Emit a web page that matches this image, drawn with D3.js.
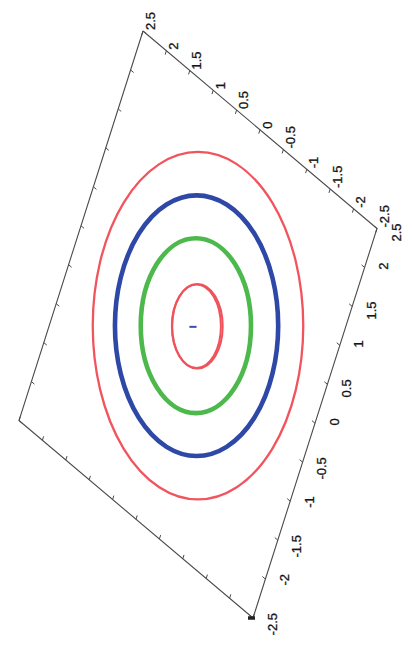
<!DOCTYPE html>
<html>
<head>
<meta charset="utf-8">
<script src="https://cdn.jsdelivr.net/npm/d3@7"></script>
<style>
  html, body { margin: 0; padding: 0; background: #fff; }
  svg { display: block; }
</style>
</head>
<body>
<svg id="chart" width="413" height="654"></svg>
<script>
// Axis tick values shared by both labelled edges of the base plane
const tickValues = [2.5, 2, 1.5, 1, 0.5, 0, -0.5, -1, -1.5, -2, -2.5];
const tickLabels = ["2.5", "2", "1.5", "1", "0.5", "0", "-0.5", "-1", "-1.5", "-2", "-2.5"];

// Closed orbits: centre and semi-axes in plane units, plus colour
const ringNames  = ["outer", "blue", "green", "inner", "inner2"];
const ringCx     = [0.00, -0.02, -0.03, -0.01, -0.02];
const ringCy     = [-0.01, -0.01, -0.01, -0.015, -0.015];
const ringRx     = [1.47, 1.14, 0.77, 0.355, 0.34];
const ringRy     = [1.48, 1.11, 0.745, 0.36, 0.355];
const ringColors = ["#f2545e", "#2d48a6", "#4db84b", "#f0525c", "#f0525c"];

// Fixed point at the centre of the orbits
const fixedPoint = { x: -0.07, y: -0.02 };

const svg = d3.select("#chart");

// Corners of the projected base plane
const T = { x: 143, y: 31 };    // u = 2.5,  v = 2.5
const R = { x: 377, y: 228.5 }; // u = -2.5, v = 2.5
const B = { x: 253, y: 618 };   // u = -2.5, v = -2.5
const L = { x: T.x + B.x - R.x, y: T.y + B.y - R.y };

// Fractions along the edges
const fu = d3.scaleLinear().domain([2.5, -2.5]).range([0, 1]);
const fv = d3.scaleLinear().domain([2.5, -2.5]).range([0, 1]);
function proj(u, v) {
  const a = fu(u), b = fv(v);
  return [T.x + a * (R.x - T.x) + b * (B.x - R.x),
          T.y + a * (R.y - T.y) + b * (B.y - R.y)];
}

// Screen-aligned frame in which the orbits are drawn
const ex = d3.scaleLinear().domain([-2.5, 2.5]).range([L.x, R.x]);
const ey = d3.scaleLinear().domain([-2.5, 2.5]).range([B.y, T.y]);

const axisColor = "#4a4a4a";
const frame = svg.append("g");

// Plane outline
frame.append("path")
  .attr("d", d3.line()([proj(2.5, 2.5), proj(-2.5, 2.5), proj(-2.5, -2.5), proj(2.5, -2.5), proj(2.5, 2.5)]))
  .attr("fill", "none").attr("stroke", axisColor).attr("stroke-width", 1.1);

// Tick marks on all four edges, pointing into the plane
const tickLen = 0.05;
const tickSegs = [];
tickValues.forEach(t => {
  tickSegs.push([proj(t, 2.5), proj(t, 2.5 - tickLen)]);
  tickSegs.push([proj(t, -2.5), proj(t, -2.5 + tickLen)]);
  tickSegs.push([proj(-2.5, t), proj(-2.5 + tickLen * 1.3, t)]);
  tickSegs.push([proj(2.5, t), proj(2.5 - tickLen * 1.3, t)]);
});
frame.selectAll("path.tick").data(tickSegs).join("path")
  .attr("class", "tick")
  .attr("d", d => d3.line()(d))
  .attr("stroke", axisColor).attr("stroke-width", 1);

// Dark end-marker at the lower corner
const bc = proj(-2.5, -2.5);
frame.append("line")
  .attr("x1", bc[0] - 5).attr("y1", bc[1]).attr("x2", bc[0] + 2).attr("y2", bc[1])
  .attr("stroke", "#222").attr("stroke-width", 3.5);

// Labels along the upper-right edge
const labelFont = "'Liberation Sans', Arial, sans-serif";
svg.append("g").selectAll("text").data(tickValues).join("text")
  .attr("transform", d => { const p = proj(d, 2.5); return `translate(${p[0] + 7},${p[1] - 1}) rotate(-90)`; })
  .attr("text-anchor", "start")
  .attr("dominant-baseline", "central")
  .attr("font-family", labelFont).attr("font-size", 13)
  .attr("fill", "#151515").attr("stroke", "#151515").attr("stroke-width", 0.3)
  .text((d, i) => tickLabels[i]);

// Labels along the lower-right edge
svg.append("g").selectAll("text").data(tickValues).join("text")
  .attr("transform", d => { const p = proj(-2.5, d); return `translate(${p[0] + 19},${p[1] - 5}) rotate(-90)`; })
  .attr("text-anchor", "end")
  .attr("dominant-baseline", "central")
  .attr("font-family", labelFont).attr("font-size", 13)
  .attr("fill", "#151515").attr("stroke", "#151515").attr("stroke-width", 0.3)
  .text((d, i) => tickLabels[i]);

// Orbits
const widths = { outer: 2.3, blue: 4.6, green: 4.6, inner: 2, inner2: 2 };
svg.append("g").selectAll("ellipse").data(ringNames).join("ellipse")
  .attr("cx", (d, i) => ex(ringCx[i]))
  .attr("cy", (d, i) => ey(ringCy[i]))
  .attr("rx", (d, i) => ex(ringRx[i]) - ex(0))
  .attr("ry", (d, i) => ey(0) - ey(ringRy[i]))
  .attr("fill", "none")
  .attr("stroke", (d, i) => ringColors[i])
  .attr("stroke-width", d => widths[d]);

// Fixed point
svg.append("line")
  .attr("x1", ex(fixedPoint.x - 0.05)).attr("x2", ex(fixedPoint.x + 0.05))
  .attr("y1", ey(fixedPoint.y)).attr("y2", ey(fixedPoint.y))
  .attr("stroke", "#3550b0").attr("stroke-width", 2);
</script>
</body>
</html>
